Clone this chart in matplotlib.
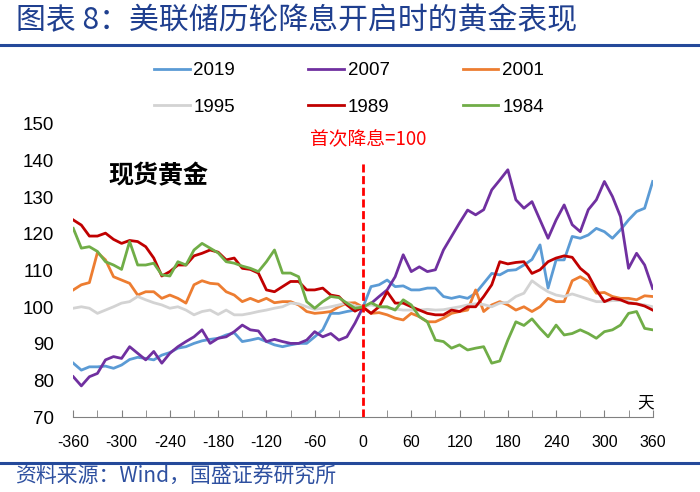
# 美联储历轮降息开启时的黄金表现 (首次降息日 = 100)

import numpy as np
import matplotlib
matplotlib.use("Agg")
import matplotlib.pyplot as plt
from matplotlib.lines import Line2D

plt.rcParams['font.family'] = ['Noto Sans CJK SC', 'DejaVu Sans']
plt.rcParams['axes.unicode_minus'] = False

# 距首次降息的天数
days = np.arange(-360, 361, 10)

gold_2019 = [84.7, 82.8, 83.7, 83.7, 83.9, 83.3, 84.2, 85.7, 86.3, 86.0,
             85.6, 86.9, 87.6, 88.8, 89.2, 90.1, 90.8, 91.2, 91.5, 92.4,
             93.0, 90.6, 91.0, 91.5, 90.6, 89.7, 89.2, 89.7, 90.1, 90.1,
             91.9, 93.8, 98.3, 98.3, 98.8, 99.2, 100.0, 105.6, 106.1, 107.4,
             105.6, 105.8, 104.7, 104.7, 105.2, 105.2, 102.9, 102.4, 102.9, 102.4,
             103.8, 106.5, 109.2, 108.8, 110.0, 110.2, 111.5, 113.0, 117.0, 105.2,
             112.9, 112.9, 119.3, 118.8, 119.7, 121.5, 120.6, 118.8, 121.1, 123.8,
             126.1, 127.0, 134.3]

gold_2007 = [81.0, 78.5, 81.0, 81.9, 85.6, 86.5, 86.0, 89.2, 87.4, 85.6,
             87.9, 84.7, 87.4, 89.2, 90.6, 91.9, 93.8, 90.1, 91.5, 91.9,
             93.3, 95.1, 93.8, 93.5, 90.6, 91.2, 90.6, 90.1, 90.1, 91.0,
             93.3, 91.9, 92.8, 91.0, 91.9, 95.6, 100.0, 101.0, 102.9, 104.7,
             108.3, 114.3, 109.7, 111.0, 109.7, 110.2, 115.6, 119.3, 123.0, 126.5,
             125.2, 126.6, 132.0, 134.7, 137.5, 129.3, 127.0, 128.8, 123.8, 118.8,
             123.8, 127.9, 122.5, 120.6, 126.6, 129.3, 134.3, 130.2, 124.7, 110.6,
             114.7, 111.5, 105.1]

gold_2001 = [104.7, 106.1, 106.7, 114.9, 112.9, 108.3, 107.4, 106.5, 103.3, 104.2,
             104.2, 102.4, 103.3, 102.4, 101.1, 106.1, 107.2, 106.5, 106.3, 104.2,
             103.3, 101.5, 102.4, 101.5, 102.4, 101.2, 101.5, 101.5, 100.6, 98.8,
             98.3, 98.5, 98.8, 100.1, 101.1, 101.2, 100.0, 98.3, 98.5, 97.9,
             97.0, 96.5, 98.3, 97.4, 96.0, 96.0, 97.0, 98.3, 98.8, 99.2,
             104.7, 98.8, 100.6, 101.5, 100.6, 99.2, 100.1, 98.8, 100.1, 102.4,
             101.5, 101.5, 107.2, 108.3, 107.0, 103.8, 104.0, 102.9, 102.4, 102.4,
             102.0, 103.1, 102.9]

gold_1995 = [99.7, 100.1, 99.7, 98.3, 99.2, 100.1, 101.1, 101.5, 102.9, 102.0,
             101.2, 100.6, 99.7, 100.1, 99.2, 97.9, 98.8, 99.2, 98.0, 99.2,
             97.9, 97.9, 98.3, 98.8, 99.2, 99.7, 100.1, 101.1, 100.9, 100.1,
             99.4, 99.7, 100.1, 100.6, 101.2, 100.3, 100.0, 100.6, 100.1, 99.7,
             99.5, 99.2, 99.2, 99.2, 99.4, 99.2, 99.3, 99.7, 100.1, 100.6,
             100.9, 100.7, 100.1, 101.1, 101.3, 102.9, 103.8, 107.2, 105.6, 104.2,
             103.3, 102.9, 103.6, 102.9, 102.2, 101.5, 101.5, 101.8, 101.8, 101.5,
             100.9, 100.6, 100.1]

gold_1989 = [123.8, 122.4, 119.4, 119.4, 120.2, 118.5, 117.4, 118.2, 117.9, 116.5,
             113.4, 108.5, 109.7, 111.5, 111.5, 114.0, 114.7, 115.6, 115.0, 112.9,
             113.4, 110.6, 110.3, 109.3, 104.7, 104.2, 105.6, 107.0, 107.0, 104.7,
             104.7, 105.2, 103.3, 102.9, 100.6, 98.9, 100.0, 98.3, 100.1, 104.2,
             101.1, 101.1, 100.1, 99.2, 98.3, 97.9, 97.9, 99.2, 98.8, 100.1,
             100.1, 102.9, 106.1, 112.4, 111.8, 112.2, 112.4, 109.2, 110.2, 112.4,
             113.4, 114.0, 113.6, 110.6, 108.8, 104.7, 101.5, 102.4, 102.0, 101.1,
             100.9, 100.3, 99.2]

gold_1984 = [121.5, 116.1, 116.5, 115.2, 112.4, 111.5, 110.3, 117.9, 111.5, 111.5,
             112.0, 108.8, 108.5, 112.4, 111.5, 115.6, 117.4, 116.1, 114.8, 112.4,
             112.0, 111.2, 110.6, 109.7, 112.4, 115.6, 109.3, 109.3, 108.3, 101.5,
             99.7, 101.5, 102.9, 102.6, 101.1, 99.7, 100.0, 101.2, 100.1, 100.1,
             99.2, 102.0, 100.6, 97.4, 96.0, 91.0, 90.6, 88.8, 89.7, 88.3,
             88.8, 89.2, 84.7, 85.3, 91.0, 96.0, 95.0, 96.8, 94.2, 91.9,
             95.1, 92.4, 92.8, 93.8, 92.8, 91.5, 93.3, 93.8, 95.1, 98.3,
             98.8, 94.2, 93.8]

series = [("2019", gold_2019, "#5B9BD5"),
          ("2007", gold_2007, "#7030A0"),
          ("2001", gold_2001, "#ED7D31"),
          ("1995", gold_1995, "#D3D3D3"),
          ("1989", gold_1989, "#C00000"),
          ("1984", gold_1984, "#70AD47")]

cut_day = 0
cut_top = 140

fig = plt.figure(figsize=(7, 4.92), dpi=100)
ax = fig.add_axes([0.1047, 0.1524, 0.8277, 0.5956])

lines = {}
for name, vals, col in series:
    ln, = ax.plot(days, vals, color=col, linewidth=2.0, label=name)
    lines[name] = ln

ax.vlines(cut_day, 70, cut_top, colors="#FF0000", linewidth=2,
          linestyles=(0, (2.9, 1.3)))

ax.set_xlim(-360, 360)
ax.set_ylim(70, 150)
ax.set_xticks(np.arange(-360, 361, 60))
ax.set_xticks(np.arange(-330, 360, 60), minor=True)
ax.set_yticks(np.arange(70, 151, 10))

for s in ["left", "right", "top"]:
    ax.spines[s].set_visible(False)
ax.spines["bottom"].set_color("#808080")

ax.tick_params(axis="x", which="both", direction="in", length=5,
               color="#808080", pad=13, labelsize=11.5)
ax.tick_params(axis="y", length=0, pad=14, labelsize=13.5)
for lab in ax.get_xticklabels() + ax.get_yticklabels():
    lab.set_fontfamily("Liberation Sans")

# 图例: 两行三列, 按行排列
order = ["2019", "1995", "2007", "1989", "2001", "1984"]
ax.legend([lines[k] for k in order], order, ncol=3, loc="center",
          bbox_to_anchor=(0.4986, 0.819), bbox_transform=fig.transFigure,
          frameon=False, prop={"family": "Liberation Sans", "size": 13.5},
          handlelength=1.9, handletextpad=0.2, columnspacing=3.9,
          labelspacing=1.05)

ax.text(7, 145.7, "首次降息=100", color="#FF0000", fontsize=13.5,
        ha="center", va="center")
ax.text(-254, 135.8, "现货黄金", fontsize=18, fontweight="bold",
        ha="center", va="center")
ax.text(351, 73.8, "天", fontsize=12, ha="center", va="center")

fig.text(16 / 700, 1 - 21 / 492, "图表 8：美联储历轮降息开启时的黄金表现",
         color="#1F3F8F", fontsize=21.5, ha="left", va="center")
fig.add_artist(Line2D([0, 1], [1 - 45 / 492, 1 - 45 / 492],
                      transform=fig.transFigure, color="#24499A", linewidth=2.2))
fig.add_artist(Line2D([0, 1], [1 - 463 / 492, 1 - 463 / 492],
                      transform=fig.transFigure, color="#24499A", linewidth=2.2))
fig.text(15 / 700, 1 - 477 / 492, "资料来源：Wind，国盛证券研究所",
         color="#2E50A0", fontsize=15, ha="left", va="center")

fig.savefig("out.png", dpi=100)
